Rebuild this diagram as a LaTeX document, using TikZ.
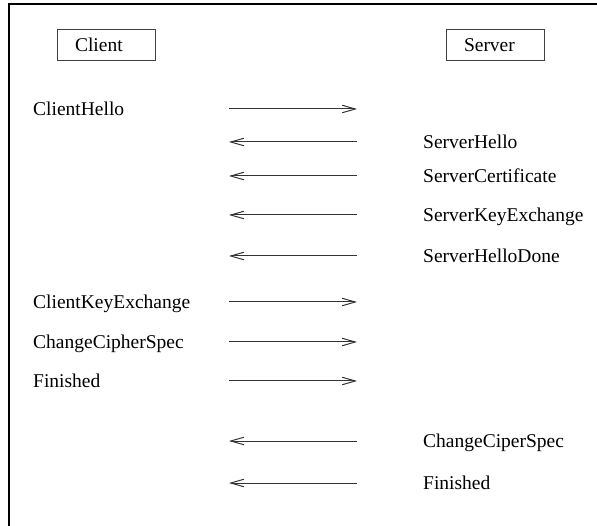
\documentclass[tikz,border=0pt]{standalone}
\usepackage{fontspec}
\setmainfont{Liberation Serif}
\usetikzlibrary{arrows.meta}
\begin{document}
\begin{tikzpicture}[x=1pt,y=1pt,
  msg/.style={font=\fontsize{19.5}{22}\selectfont, inner sep=0pt, anchor=base west},
  party/.style={draw=black!75, line width=0.9pt, font=\fontsize{19.5}{22}\selectfont,
    text width=62pt, align=left, inner xsep=18pt, inner ysep=0pt, minimum height=31pt},
  flow/.style={draw=black!80, line width=1pt, -{Straight Barb[length=13pt,width=7.5pt,line width=1pt]}},
  frame/.style={draw=black, line width=1.4pt}]
\useasboundingbox (0,0) rectangle (597,-526);
\coordinate (ftop) at (597,-4);
\coordinate (fcorner) at (9,-4);
\coordinate (fbottom) at (9,-526);
\draw[frame] (ftop) -- (fcorner) -- (fbottom);
\node[party] (client) at (106,-45) {Client};
\node[party] (server) at (495,-45) {Server};
% rows
\foreach \n/\y in {r1/109,r2/142,r3/176,r4/215,r5/256,r6/302,r7/342,r8/381,r9/441,r10/483}{
  \coordinate (\n L) at (229,-\y);
  \coordinate (\n R) at (357,-\y);
}
\node[msg] (ch) at (33,-115.5) {ClientHello};
\node[msg] (sh) at (423,-148.5) {ServerHello};
\node[msg] (sc) at (423,-182.5) {ServerCertificate};
\node[msg] (ske) at (423,-221.5) {ServerKeyExchange};
\node[msg] (shd) at (423,-262.5) {ServerHelloDone};
\node[msg] (cke) at (33,-308.5) {ClientKeyExchange};
\node[msg] (ccs) at (33,-348.5) {ChangeCipherSpec};
\node[msg] (cf) at (33,-387.5) {Finished};
\node[msg] (sccs) at (423,-447.5) {ChangeCiperSpec};
\node[msg] (sf) at (423,-489.5) {Finished};
\draw[flow] (r1L) -- (r1R);
\draw[flow] (r2R) -- (r2L);
\draw[flow] (r3R) -- (r3L);
\draw[flow] (r4R) -- (r4L);
\draw[flow] (r5R) -- (r5L);
\draw[flow] (r6L) -- (r6R);
\draw[flow] (r7L) -- (r7R);
\draw[flow] (r8L) -- (r8R);
\draw[flow] (r9R) -- (r9L);
\draw[flow] (r10R) -- (r10L);
\end{tikzpicture}
\end{document}
